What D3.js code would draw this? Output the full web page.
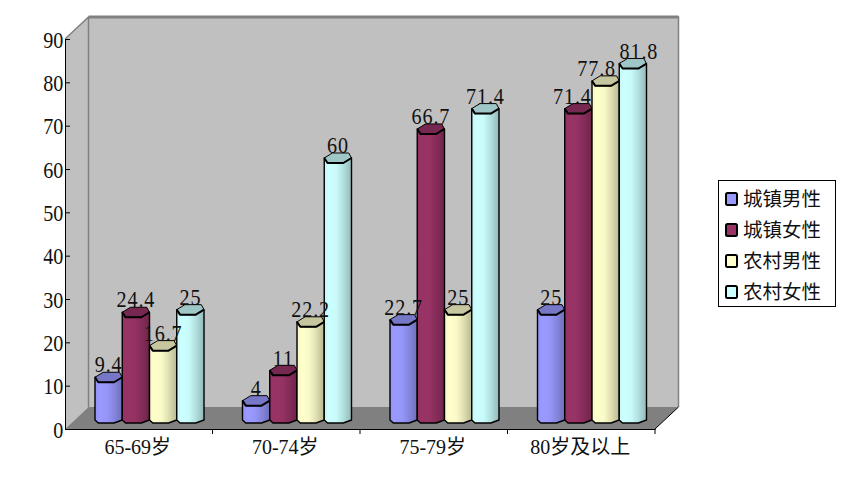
<!DOCTYPE html>
<html><head><meta charset="utf-8">
<script src="https://cdn.jsdelivr.net/npm/d3@7"></script>
<style>html,body{margin:0;padding:0;background:#fff}svg{display:block}
text{font-family:"Liberation Serif","Noto Sans CJK SC",serif;fill:#111}</style>
</head><body><svg id="c" width="842" height="488"></svg>
<script>
const categories = ["65-69岁","70-74岁","75-79岁","80岁及以上"];
const seriesNames = ["城镇男性","城镇女性","农村男性","农村女性"];
const seriesColors = ["#9999FF","#993366","#FFFFCC","#CCFFFF"];
const urbanMale = [9.4,4,22.7,25];
const urbanFemale = [24.4,11,66.7,71.4];
const ruralMale = [16.7,22.2,25,77.8];
const ruralFemale = [25,60,71.4,81.8];
const yTicks = [0,10,20,30,40,50,60,70,80,90];
const seriesValues = [urbanMale,urbanFemale,ruralMale,ruralFemale];

const svg = d3.select("#c");
const m = {l:65,r:655,t:39,b:429}, dx=23.5, dy=22;
const x = d3.scaleBand().domain(categories).range([m.l,m.r]);
const y = d3.scaleLinear().domain([0,90]).range([m.b,m.t]);
const xs = d3.scaleBand().domain(d3.range(4)).range([30,30+109]);
const lift = 11;

const defs = svg.append("defs");
seriesColors.forEach((c,i)=>{
  const g = defs.append("linearGradient").attr("id","g"+i);
  const base = d3.rgb(c), f=k=>d3.rgb(base.r*k,base.g*k,base.b*k).formatHex();
  [[0,f(.97)],[.18,f(1.0)],[.45,f(.98)],[.75,f(.85)],[1,f(.72)]].forEach(s=>
    g.append("stop").attr("offset",s[0]).attr("stop-color",s[1]));
});

const poly = (pts,fill)=>svg.append("polygon").attr("points",pts.map(p=>p.join(",")).join(" ")).attr("fill",fill);
poly([[m.l,m.t],[m.l+dx,m.t-dy],[m.l+dx,m.b-dy],[m.l,m.b]],"#C0C0C0");
poly([[m.l+dx,m.t-dy],[m.r+dx,m.t-dy],[m.r+dx,m.b-dy],[m.l+dx,m.b-dy]],"#C0C0C0");
poly([[m.l,m.b],[m.l+dx,m.b-dy],[m.r+dx,m.b-dy],[m.r,m.b]],"#808080");
svg.append("path").attr("fill","none").attr("stroke","#808080").attr("stroke-width",1.5)
  .attr("d",`M${m.l},${m.t}L${m.l+dx},${m.t-dy}H${m.r+dx}V${m.b-dy}M${m.l+dx},${m.t-dy}V${m.b-dy}`);
svg.append("line").attr("x1",m.l+dx).attr("x2",m.r+dx).attr("y1",m.t-dy).attr("y2",m.t-dy).attr("stroke","#808080").attr("stroke-width",3);
svg.append("line").attr("x1",m.r).attr("y1",m.b).attr("x2",m.r+dx).attr("y2",m.b-dy).attr("stroke","#000");

const w = xs.bandwidth(), h=5;
const dark = c=>{const b=d3.rgb(c);return d3.rgb(b.r*.78,b.g*.78,b.b*.78).formatHex();};
categories.forEach((cat,ci)=>{
  seriesValues.forEach((vals,si)=>{
    const x0 = x(cat)+xs(si), x1=x0+w, top=y(vals[ci])-lift, base=y(0)-lift;
    const g = svg.append("g").attr("stroke","#000").attr("stroke-linejoin","round");
    g.append("path").attr("fill",`url(#g${si})`).attr("stroke-width",1.4)
      .attr("d",`M${x0},${top}L${x0},${base+.4*h}L${x0+.12*w},${base+h}H${x0+.7*w}L${x1},${base+.4*h}L${x1},${top}Z`);
    g.append("path").attr("fill",dark(seriesColors[si])).attr("stroke-width",1)
      .attr("d",`M${x0},${top}L${x0+.3*w},${top-h}H${x0+.9*w}L${x1},${top}L${x0+.7*w},${top+h}H${x0+.12*w}Z`);
    g.append("path").attr("fill","none").attr("stroke-width",2)
      .attr("d",`M${x0},${top}L${x0+.12*w},${top+h}H${x0+.7*w}L${x1},${top}`);
  });
});
// the last group's labels are spread sideways so that they do not collide
const lastGroupNudge = [0,-6,-9,6];
categories.forEach((cat,ci)=>{
  seriesValues.forEach((vals,si)=>{
    const nudge = ci === categories.length-1 ? lastGroupNudge[si] : 0;
    svg.append("text").attr("transform",`translate(${x(cat)+xs(si)+w/2+nudge},${y(vals[ci])-lift-13}) scale(.84,1)`)
      .attr("text-anchor","middle").attr("dy","0.34em").attr("font-size",24).attr("letter-spacing",1).text(vals[ci]);
  });
});

const ax = svg.append("g").attr("transform",`translate(${m.l},0)`)
  .call(d3.axisLeft(y).tickValues(yTicks).tickFormat(d3.format("d")).tickSizeInner(-5).tickSizeOuter(0).tickPadding(2));
ax.selectAll("text").attr("font-size",24).attr("fill","#111").attr("dy","0.34em")
  .attr("x",-2).attr("transform","scale(.84,1)");
ax.selectAll("line,path").attr("stroke","#000");
const bx = svg.append("g").attr("transform",`translate(0,${m.b})`)
  .call(d3.axisBottom(x).tickSize(0).tickPadding(11));
bx.selectAll("text").attr("font-size",20).attr("dy","0.71em").attr("dx",-1).attr("fill","#111");
bx.select("path").attr("stroke","#000");
svg.append("g").selectAll("line").data(categories).join("line")
  .attr("x1",d=>x(d)+x.step()).attr("x2",d=>x(d)+x.step()).attr("y1",m.b).attr("y2",m.b+5).attr("stroke","#000");

const lg = svg.append("g").attr("transform","translate(718,180)");
lg.append("rect").attr("x",.5).attr("y",.5).attr("width",117).attr("height",126).attr("fill","#fff").attr("stroke","#000");
const rowY = d3.scalePoint().domain(d3.range(4)).range([19,112]);
seriesNames.forEach((n,i)=>{
  lg.append("rect").attr("x",8).attr("y",rowY(i)-6).attr("width",11).attr("height",12).attr("rx",1.5)
    .attr("fill",seriesColors[i]).attr("stroke","#000").attr("stroke-width",2);
  lg.append("text").attr("x",25).attr("y",rowY(i)).attr("dy","0.36em").attr("font-size",19.5).text(n);
});
</script></body></html>
